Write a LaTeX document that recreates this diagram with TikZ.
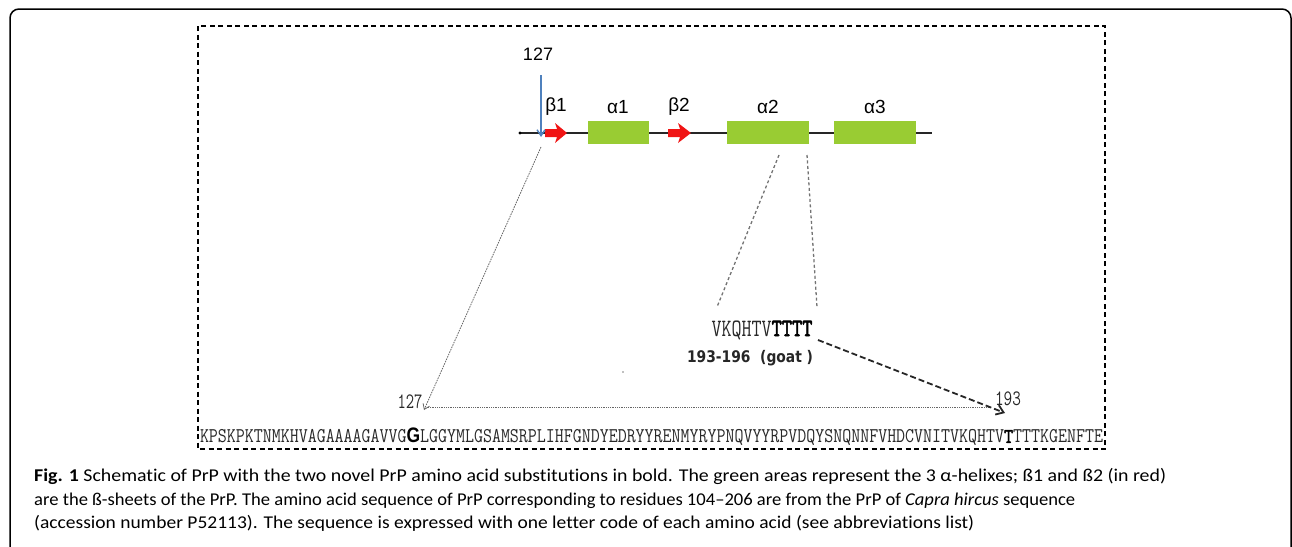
\documentclass[tikz,border=0pt]{standalone}
\usepackage{fontspec}
\setmainfont{Carlito}[Ligatures=NoCommon]
\newfontfamily\lsans{Liberation Sans}
\newfontfamily\dvb{DejaVu Sans}
\newfontfamily\lmttb{lmmono10-regular.otf}[FakeBold=2.5]
\usetikzlibrary{arrows.meta}
\definecolor{helixgreen}{RGB}{153,204,51}
\definecolor{sheetred}{RGB}{240,20,20}
\definecolor{markblue}{RGB}{79,129,189}
\definecolor{seqgray}{RGB}{40,40,40}
\newlength\fitlen
\newcommand\fitw[2]{\settowidth\fitlen{#2}\scalebox{\fpeval{(#1)/(\the\fitlen)}}[1]{#2}}
\tikzset{
  helix/.style={fill=helixgreen, draw=none, inner sep=0pt, minimum height=23pt},
  sslabel/.style={font=\lsans\fontsize{19}{21}\selectfont, inner sep=0pt},
  monotext/.style={font=\ttfamily, text=seqgray, inner sep=0pt},
  caption/.style={font=\fontsize{18}{21}\selectfont, anchor=base west, inner sep=0pt},
  finedash/.style={draw=gray!80!black, line width=0.8pt, dash pattern=on 1.6pt off 1pt},
  zoomdash/.style={draw=gray!90!black, line width=1.3pt, dash pattern=on 3pt off 2.5pt},
  bigdash/.style={draw=black!85, line width=1.8pt, dash pattern=on 6pt off 3pt},
}
\begin{document}
\begin{tikzpicture}[x=1pt,y=-1pt]
\useasboundingbox (0,0) rectangle (1292,546);
\clip (0,0) rectangle (1292,546);
% outer frame
\draw[line width=1.5pt, rounded corners=9pt] (10,600) -- (10,9) -- (1291,9) -- (1291,600);
% dashed inner box
\draw[line width=1.2pt, dash pattern=on 5pt off 3.5pt] (198,26) rectangle (1105,449);

% backbone
\coordinate (bbL) at (520,133);
\coordinate (bbR) at (932,133);
\draw[line width=2.4pt, black!85] (bbL) -- (bbR);
\fill[black] (bbL) circle (1.6pt);

% helices
\node[helix, minimum width=61pt] (a1) at (618.5,132.5) {};
\node[helix, minimum width=82pt] (a2) at (768,132.5) {};
\node[helix, minimum width=82pt] (a3) at (875,132.5) {};

% beta sheets (red arrows)
\fill[sheetred] (545,129) -- (557,129) -- (555,123) -- (567,133) -- (555,143) -- (557,137) -- (545,137) -- cycle;
\fill[sheetred] (668,129) -- (680,129) -- (678,123) -- (691,133) -- (678,143) -- (680,137) -- (668,137) -- cycle;

% labels
\node[sslabel] (lb1) at (556,107) {β1};
\node[sslabel] (la1) at (618,107) {α1};
\node[sslabel] (lb2) at (679,107) {β2};
\node[sslabel] (la2) at (768,107) {α2};
\node[sslabel] (la3) at (875,107) {α3};

% 127 marker
\node[font=\lsans\fontsize{18}{20}\selectfont, inner sep=0pt] (top127) at (538,54) {127};
\coordinate (mk) at (541,137);
\draw[markblue, line width=1.4pt, -{Straight Barb[length=6pt,width=8pt]}] (541,75) -- (mk);

% zoom lines from alpha2
\coordinate (z1a) at (779,155);
\coordinate (z1b) at (717,307);
\coordinate (z2a) at (807,155);
\coordinate (z2b) at (817,307);
\draw[zoomdash] (z1a) -- (z1b);
\draw[zoomdash] (z2a) -- (z2b);

% zoomed text
\node[monotext, font=\ttfamily\fontsize{25}{27}\selectfont] (vk) at (762,330) {\fitw{101}{VKQHTV{\lmttb\color{black}TTTT}}};
\node[inner sep=0pt, font=\dvb\bfseries\fontsize{16}{18}\selectfont, text=black!85] (goat) at (750,358) {\fitw{126}{193-196\ \ (goat )}};
\fill[gray] (623,372) circle (0.9pt);

% lower position labels
\node[monotext, font=\ttfamily\fontsize{22}{24}\selectfont] (p127) at (410,402) {\fitw{25}{127}};
\node[monotext, font=\ttfamily\fontsize{22}{24}\selectfont] (p193) at (1008,399) {\fitw{26}{193}};

% sequence
\node[monotext, font=\ttfamily\fontsize{21}{24}\selectfont] (seq) at (651.5,437) {\fitw{903}{KPSKPKTNMKHVAGAAAAGAVVG{\lsans\bfseries\color{black}G}LGGYMLGSAMSRPLIHFGNDYEDRYYRENMYRYPNQVYYRPVDQYSNQNNFVHDCVNITVKQHTV{\lmttb\color{black}T}TTTKGENFTE}};

% connectors
\coordinate (s127) at (541,147);
\coordinate (e127) at (424,410);
\draw[finedash, -{Straight Barb[length=5pt,width=7pt]}] (s127) -- (e127);
\coordinate (h1) at (428,407);
\coordinate (h2) at (990,407);
\draw[finedash, dash pattern=on 1pt off 0.8pt] (h1) -- (h2);
\coordinate (vkend) at (818,340);
\coordinate (tip193) at (1005,413);
\draw[bigdash, -{Straight Barb[length=7pt,width=10pt]}] (vkend) -- (tip193);

% caption
\node[caption] (cap1) at (34,481) {\fitw{1132}{\textbf{Fig. 1} Schematic of PrP with the two novel PrP amino acid substitutions in bold. The green areas represent the 3 α-helixes; ß1 and ß2 (in red)}};
\node[caption] (cap2) at (34,505) {\fitw{1041}{are the ß-sheets of the PrP. The amino acid sequence of PrP corresponding to residues 104–206 are from the PrP of \textit{Capra hircus} sequence}};
\node[caption] (cap3) at (34,528) {\fitw{940}{(accession number P52113). The sequence is expressed with one letter code of each amino acid (see abbreviations list)}};
\end{tikzpicture}
\end{document}
